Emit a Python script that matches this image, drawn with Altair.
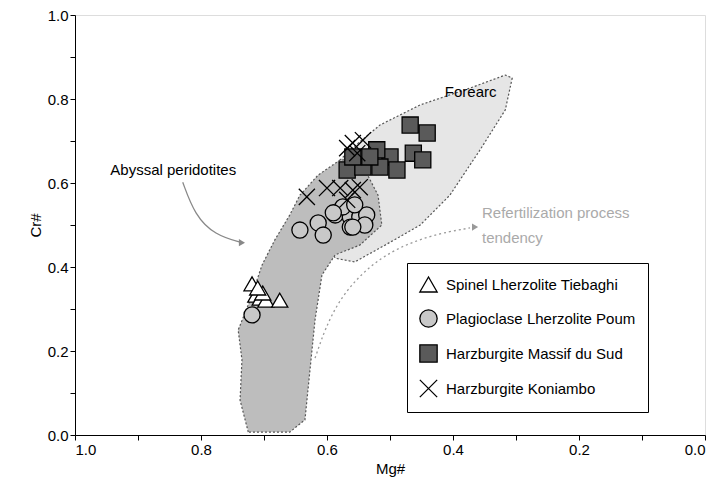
import pandas as pd
import altair as alt

# polygons (Mg#, Cr#)
fore_mg = [.643, .611, .563, .516, .452, .373, .317, .306, .317, .357, .405, .452, .508, .556, .587, .603, .627]
fore_cr = [.548, .607, .679, .738, .786, .826, .857, .850, .774, .679, .571, .500, .452, .412, .421, .464, .500]
aby_mg = [.725, .738, .735, .741, .722, .703, .683, .659, .643, .614, .579, .548, .519, .513, .548, .587, .608, .619, .627, .635, .659]
aby_cr = [.007, .083, .179, .250, .321, .405, .464, .524, .571, .619, .655, .655, .571, .500, .452, .429, .381, .274, .155, .036, .007]

tri_mg = [.719, .713, .706, .697, .675, .702, .710]
tri_cr = [.360, .333, .326, .321, .321, .338, .350]
cir_mg = [.719, .643, .614, .606, .587, .563, .548, .537, .540, .563, .575, .556, .590, .559]
cir_cr = [.286, .488, .505, .476, .524, .519, .519, .524, .500, .495, .543, .548, .529, .495]
sq_mg = [.468, .441, .500, .463, .448, .568, .543, .516, .521, .559, .489, .532]
sq_cr = [.738, .719, .662, .671, .655, .631, .638, .638, .679, .662, .631, .662]
x_mg = [.552, .543, .559, .568, .559, .579, .600, .632, .568, .548]
x_cr = [.671, .702, .695, .683, .583, .588, .588, .567, .560, .590]

groups = ["Spinel Lherzolite Tiebaghi", "Plagioclase Lherzolite Poum",
          "Harzburgite Massif du Sud", "Harzburgite Koniambo"]

arrow1_mg = [.829, .810, .778, .735]
arrow1_cr = [.602, .524, .476, .458]
arrow2_mg = [.619, .587, .516, .437, .373]
arrow2_cr = [.183, .321, .429, .476, .493]

def poly(mg, cr):
    return pd.DataFrame({"mg": mg + mg[:1], "cr": cr + cr[:1], "o": range(len(mg) + 1)})

lab = "datum.value*10 % 2 < 0.01 || datum.value*10 % 2 > 1.99 ? format(datum.value, '.1f') : ''"
xs = alt.Scale(domain=[1, 0], nice=False)
ys = alt.Scale(domain=[0, 1], nice=False)
X = alt.X("mg:Q", scale=xs, title="Mg#",
          axis=alt.Axis(values=[i / 10 for i in range(11)], labelExpr=lab, titleFontWeight="normal",
                        grid=False, tickColor="black", domainColor="black", labelFontSize=15, titleFontSize=15, labelColor="black"))
Y = alt.Y("cr:Q", scale=ys, title="Cr#",
          axis=alt.Axis(values=[i / 10 for i in range(11)], labelExpr=lab, titleFontWeight="normal",
                        grid=False, tickColor="black", domainColor="black", labelFontSize=15, titleFontSize=15, labelColor="black"))

fore = alt.Chart(poly(fore_mg, fore_cr)).mark_line(fill="#e6e6e6", stroke="#555", strokeDash=[2, 2], strokeWidth=1.2).encode(x=X, y=Y, order="o:Q")
aby = alt.Chart(poly(aby_mg, aby_cr)).mark_line(fill="#bdbdbd", stroke="#555", strokeDash=[2, 2], strokeWidth=1.2).encode(x=X, y=Y, order="o:Q")

pts = pd.concat([
    pd.DataFrame({"mg": tri_mg, "cr": tri_cr, "g": groups[0]}),
    pd.DataFrame({"mg": cir_mg, "cr": cir_cr, "g": groups[1]}),
    pd.DataFrame({"mg": sq_mg, "cr": sq_cr, "g": groups[2]}),
    pd.DataFrame({"mg": x_mg, "cr": x_cr, "g": groups[3]}),
])
legend = alt.Legend(title=None, orient="none", legendX=332, legendY=248, strokeColor="black",
                    fillColor="white", padding=12, labelFontSize=15, labelColor="black", labelLimit=0,
                    symbolSize=300, rowPadding=12, symbolStrokeWidth=1.3, labelOffset=8)
points = alt.Chart(pts).mark_point(filled=True, stroke="black", strokeWidth=1.3, size=260, opacity=1).encode(
    x=X, y=Y,
    shape=alt.Shape("g:N", sort=groups, scale=alt.Scale(domain=groups, range=[
        "triangle-up", "circle", "square", "M-1,-1L1,1M-1,1L1,-1"]), legend=legend),
    fill=alt.Fill("g:N", sort=groups, scale=alt.Scale(domain=groups, range=["white", "#c8c8c8", "#5a5a5a", "transparent"]), legend=legend),
)

a1 = alt.Chart(pd.DataFrame({"mg": arrow1_mg, "cr": arrow1_cr})).mark_line(color="#888", interpolate="basis", strokeWidth=1.3).encode(x=X, y=Y)
a1h = alt.Chart(pd.DataFrame({"mg": arrow1_mg[-1:], "cr": arrow1_cr[-1:]})).mark_point(shape="triangle-right", filled=True, color="#888", size=50, opacity=1).encode(x=X, y=Y)
a2 = alt.Chart(pd.DataFrame({"mg": arrow2_mg, "cr": arrow2_cr})).mark_line(color="#999", interpolate="basis", strokeDash=[2, 3], strokeWidth=1.3).encode(x=X, y=Y)
a2h = alt.Chart(pd.DataFrame({"mg": [.365], "cr": [.495]})).mark_point(shape="triangle-right", filled=True, color="#999", size=50, opacity=1).encode(x=X, y=Y)

labels = pd.DataFrame({
    "mg": [.413, .944, .354, .354], "cr": [.817, .631, .529, .469],
    "t": ["Forearc", "Abyssal peridotites", "Refertilization process", "tendency"],
    "c": ["black", "black", "#aaaaaa", "#aaaaaa"],
})
txt = alt.Chart(labels).mark_text(align="left", fontSize=15, font="Liberation Sans").encode(
    x=X, y=Y, text="t:N", color=alt.Color("c:N", scale=None))

chart = alt.layer(fore, aby, a1, a1h, a2, a2h, points, txt).properties(
    width=630, height=420, autosize=alt.AutoSizeParams(type="none"),
    padding={"left": 67, "top": 7, "right": 7, "bottom": 60},
).configure_view(stroke="black").configure(font="Liberation Sans")

chart.save("out.html", embed_options={"renderer": "svg", "actions": False})
